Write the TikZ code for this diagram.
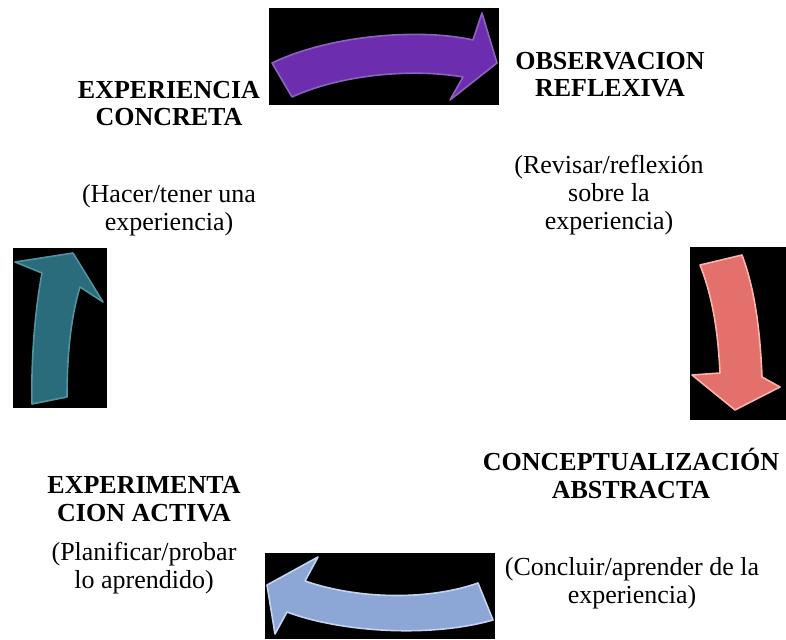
\documentclass[tikz,border=0pt]{standalone}
\usepackage{fontspec}
\setmainfont{Liberation Serif}
\definecolor{purpA}{HTML}{6C2EAE}
\definecolor{purpB}{HTML}{8D62BE}
\definecolor{redA}{HTML}{E4706C}
\definecolor{redB}{HTML}{F6B4AC}
\definecolor{bluA}{HTML}{8CA6D6}
\definecolor{bluB}{HTML}{C4D3EE}
\definecolor{tealA}{HTML}{2A6C7C}
\definecolor{tealB}{HTML}{4F93A0}
\tikzset{
  title/.style={font=\bfseries\fontsize{26}{27.5}\selectfont, align=center, inner sep=0pt, anchor=base},
  desc/.style={font=\fontsize{26}{28}\selectfont, align=center, inner sep=0pt, anchor=base},
  panel/.style={fill=black, draw=none},
  arrowbody/.style={line width=1.6pt, line join=round}
}
\begin{document}
\begin{tikzpicture}[x=1pt,y=-1pt]
\useasboundingbox (0,0) rectangle (786,639);
% black panels
\fill[panel] (269,8) rectangle (499,105);
\fill[panel] (690,247) rectangle (786,420);
\fill[panel] (265,553) rectangle (495,639);
\fill[panel] (13,248) rectangle (107,408);
% arrows
\filldraw[arrowbody, fill=purpA, draw=purpB]
  (272,63) .. controls (330,35) and (420,28) .. (473,40) -- (482,13) -- (497,63) -- (450,100) -- (463,77)
  .. controls (410,68) and (340,75) .. (292,97) -- cycle;
\filldraw[arrowbody, fill=redA, draw=redB]
  (700,265) -- (742,255) .. controls (755,290) and (760,330) .. (762,377) -- (780,387) -- (735,410) -- (692,375) -- (720,373)
  .. controls (718,330) and (712,295) .. (700,265) -- cycle;
\filldraw[arrowbody, fill=bluA, draw=bluB]
  (267,585) -- (318,557) -- (305,581) .. controls (360,600) and (430,600) .. (478,583) -- (493,620)
  .. controls (430,638) and (340,632) .. (287,612) -- (275,634) -- cycle;
\filldraw[arrowbody, fill=tealA, draw=tealB]
  (15,262) -- (73,253) -- (103,302) -- (80,287) .. controls (70,320) and (67,360) .. (67,397) -- (32,404)
  .. controls (31,360) and (35,310) .. (42,273) -- cycle;
% labels (anchor = baseline of last line)
\node[title] (ec) at (169,126) {EXPERIENCIA\\CONCRETA};
\node[desc] (ecd) at (169,230) {(Hacer/tener una\\experiencia)};
\node[title] (or) at (610,97) {OBSERVACION\\REFLEXIVA};
\node[desc] (ord) at (609,229) {(Revisar/reflexión\\sobre la\\experiencia)};
\node[title] (ca) at (631,498) {CONCEPTUALIZACIÓN\\ABSTRACTA};
\node[desc] (cad) at (632,603) {(Concluir/aprender de la\\experiencia)};
\node[title] (ea) at (144,521) {EXPERIMENTA\\CION ACTIVA};
\node[desc] (ead) at (144,588) {(Planificar/probar\\lo aprendido)};
\end{tikzpicture}
\end{document}
